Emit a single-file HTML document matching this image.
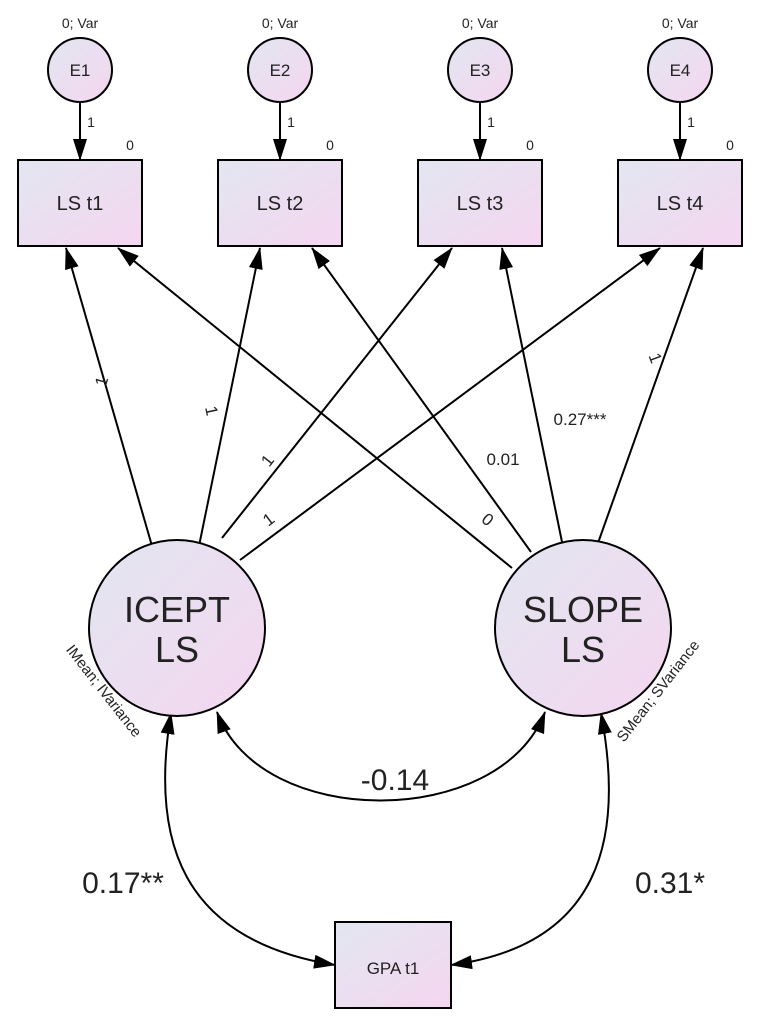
<!DOCTYPE html>
<html><head><meta charset="utf-8"><style>
html,body{margin:0;padding:0;background:#fff;}
svg{display:block;font-family:"Liberation Sans",Arial,sans-serif;}
</style></head><body>
<svg width="764" height="1028" viewBox="0 0 764 1028" xmlns="http://www.w3.org/2000/svg">
<defs>
<linearGradient id="g" x1="0" y1="0" x2="1" y2="1">
<stop offset="0" stop-color="#e2e6f0"/><stop offset="1" stop-color="#f4d6f0"/>
</linearGradient>
<marker id="b" markerWidth="22" markerHeight="14" refX="21" refY="7" orient="auto" markerUnits="userSpaceOnUse">
<path d="M0,0 L22,7 L0,14 Z" fill="#000"/>
</marker>
<marker id="bs" markerWidth="22" markerHeight="14" refX="1" refY="7" orient="auto" markerUnits="userSpaceOnUse">
<path d="M22,0 L0,7 L22,14 Z" fill="#000"/>
</marker>
</defs>
<g stroke="#000" stroke-width="2" fill="none">
<line x1="80" y1="103" x2="80" y2="160" marker-end="url(#b)"/>
<line x1="280" y1="103" x2="280" y2="160" marker-end="url(#b)"/>
<line x1="480" y1="103" x2="480" y2="160" marker-end="url(#b)"/>
<line x1="680" y1="103" x2="680" y2="160" marker-end="url(#b)"/>
<line x1="152" y1="546" x2="66" y2="248" marker-end="url(#b)"/>
<line x1="199" y1="546" x2="260" y2="248" marker-end="url(#b)"/>
<line x1="222" y1="538" x2="452" y2="248" marker-end="url(#b)"/>
<line x1="240" y1="560" x2="660" y2="248" marker-end="url(#b)"/>
<line x1="512" y1="568" x2="118" y2="248" marker-end="url(#b)"/>
<line x1="531" y1="552" x2="312" y2="248" marker-end="url(#b)"/>
<line x1="562" y1="542" x2="502" y2="248" marker-end="url(#b)"/>
<line x1="598" y1="543" x2="703" y2="248" marker-end="url(#b)"/>
<path d="M217,712 C260,830 500,830 545,712" marker-start="url(#bs)" marker-end="url(#b)"/>
<path d="M171,713 C150,840 180,940 335,965" marker-start="url(#bs)" marker-end="url(#b)"/>
<path d="M601,713 C625,840 600,945 451,965" marker-start="url(#bs)" marker-end="url(#b)"/>
</g>
<g stroke="#000" stroke-width="2" fill="url(#g)">
<circle cx="80" cy="70" r="32"/>
<circle cx="280" cy="70" r="32"/>
<circle cx="480" cy="70" r="32"/>
<circle cx="680" cy="70" r="32"/>
<rect x="18" y="160" width="124" height="86"/>
<rect x="218" y="160" width="124" height="86"/>
<rect x="418" y="160" width="124" height="86"/>
<rect x="618" y="160" width="124" height="86"/>
<circle cx="177" cy="628" r="88"/>
<circle cx="583" cy="628" r="88"/>
<rect x="335" y="922" width="116" height="86"/>
</g>
<g fill="#222" text-anchor="middle">
<text x="80" y="28" font-size="14">0; Var</text>
<text x="280" y="28" font-size="14">0; Var</text>
<text x="480" y="28" font-size="14">0; Var</text>
<text x="680" y="28" font-size="14">0; Var</text>
<text x="80" y="76" font-size="17">E1</text>
<text x="280" y="76" font-size="17">E2</text>
<text x="480" y="76" font-size="17">E3</text>
<text x="680" y="76" font-size="17">E4</text>
<text x="91" y="127" font-size="14">1</text>
<text x="291" y="127" font-size="14">1</text>
<text x="491" y="127" font-size="14">1</text>
<text x="691" y="127" font-size="14">1</text>
<text x="130" y="150" font-size="14">0</text>
<text x="330" y="150" font-size="14">0</text>
<text x="530" y="150" font-size="14">0</text>
<text x="730" y="150" font-size="14">0</text>
<text x="80" y="210" font-size="20">LS t1</text>
<text x="280" y="210" font-size="20">LS t2</text>
<text x="480" y="210" font-size="20">LS t3</text>
<text x="680" y="210" font-size="20">LS t4</text>
<text x="177" y="622" font-size="36">ICEPT</text>
<text x="177" y="662" font-size="36">LS</text>
<text x="583" y="622" font-size="36">SLOPE</text>
<text x="583" y="662" font-size="36">LS</text>
<text x="393" y="974" font-size="17">GPA t1</text>
<text x="395" y="790" font-size="30">-0.14</text>
<text x="123" y="893" font-size="30">0.17**</text>
<text x="670" y="893" font-size="30">0.31*</text>
<text x="503" y="465" font-size="17">0.01</text>
<text x="580" y="425" font-size="17">0.27***</text>
<text transform="translate(107,383) rotate(-74)" font-size="17">1</text>
<text transform="translate(206,412) rotate(78)" font-size="17">1</text>
<text transform="translate(272,464) rotate(-52)" font-size="17">1</text>
<text transform="translate(272,524) rotate(-37)" font-size="17">1</text>
<text transform="translate(484,524) rotate(39)" font-size="17">0</text>
<text transform="translate(650,360) rotate(70)" font-size="17">1</text>
<text transform="translate(100,694) rotate(52)" font-size="15">IMean; IVariance</text>
<text transform="translate(662,694) rotate(-52)" font-size="15">SMean; SVariance</text>
</g>
</svg>
</body></html>
